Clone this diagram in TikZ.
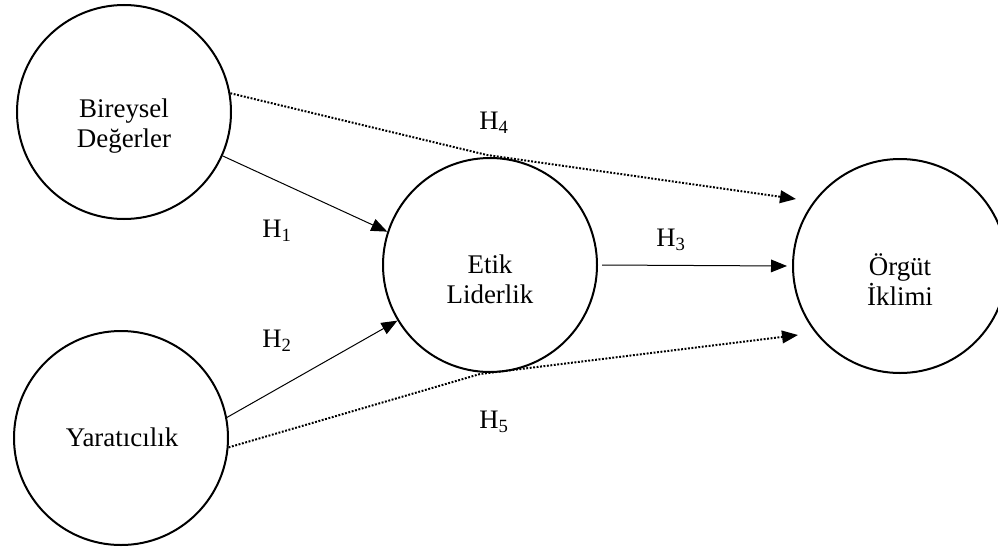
\documentclass[tikz,border=0pt]{standalone}
\usepackage{fontspec}
\setmainfont{Liberation Serif}
\usetikzlibrary{arrows.meta}
\begin{document}
\begin{tikzpicture}[x=0.75pt,y=-0.75pt,
  circ/.style={circle,draw,line width=1.5pt,minimum size=160.5pt,inner sep=0pt},
  lbl/.style={font=\fontsize{20.2}{22.5}\selectfont,align=center,inner sep=0pt},
  hyp/.style={font=\fontsize{20}{22.5}\selectfont,inner sep=0pt,anchor=base},
  solidarr/.style={line width=0.75pt,-{Triangle[length=12pt,width=9.5pt]}},
  dotarr/.style={line width=1.5pt,dash pattern=on 1.4pt off 1.2pt,-{Triangle[length=12pt,width=9.5pt]}}]
\useasboundingbox (0,0) rectangle (998,546);
\fill[white] (0,0) rectangle (998,546);
% circles
\node[circ] (A) at (124,112) {};
\node[circ] (B) at (121,438) {};
\node[circ] (C) at (490,265) {};
\node[circ] (D) at (900,266) {};
% texts
\node[lbl] (tA) at (124,126) {Bireysel\\Değerler};
\node[lbl] (tB) at (122,437) {Yaratıcılık};
\node[lbl] (tC) at (490,279) {Etik\\Liderlik};
\node[lbl] (tD) at (900,280) {Örgüt\\İklimi};
% hypothesis labels
\node[hyp] (H1) at (277,237) {H\textsubscript{1}};
\node[hyp] (H2) at (277,347) {H\textsubscript{2}};
\node[hyp] (H3) at (671,246) {H\textsubscript{3}};
\node[hyp] (H4) at (494,129) {H\textsubscript{4}};
\node[hyp] (H5) at (494,428) {H\textsubscript{5}};
% coordinates
\coordinate (k4) at (487,155);
\coordinate (k5) at (480,374);
\coordinate (e3) at (787,266);
\coordinate (e4) at (796,199);
\coordinate (e5) at (798,335);
% connectors
\draw[solidarr] (A.-24) -- (C.162);
\draw[solidarr] (B.11) -- (C.211);
\draw[solidarr] ([xshift=3pt]C.east) -- (e3);
\draw[dotarr] (A.10) -- (k4) -- (e4);
\draw[dotarr] (B.-5) -- (k5) -- (e5);
\end{tikzpicture}
\end{document}
